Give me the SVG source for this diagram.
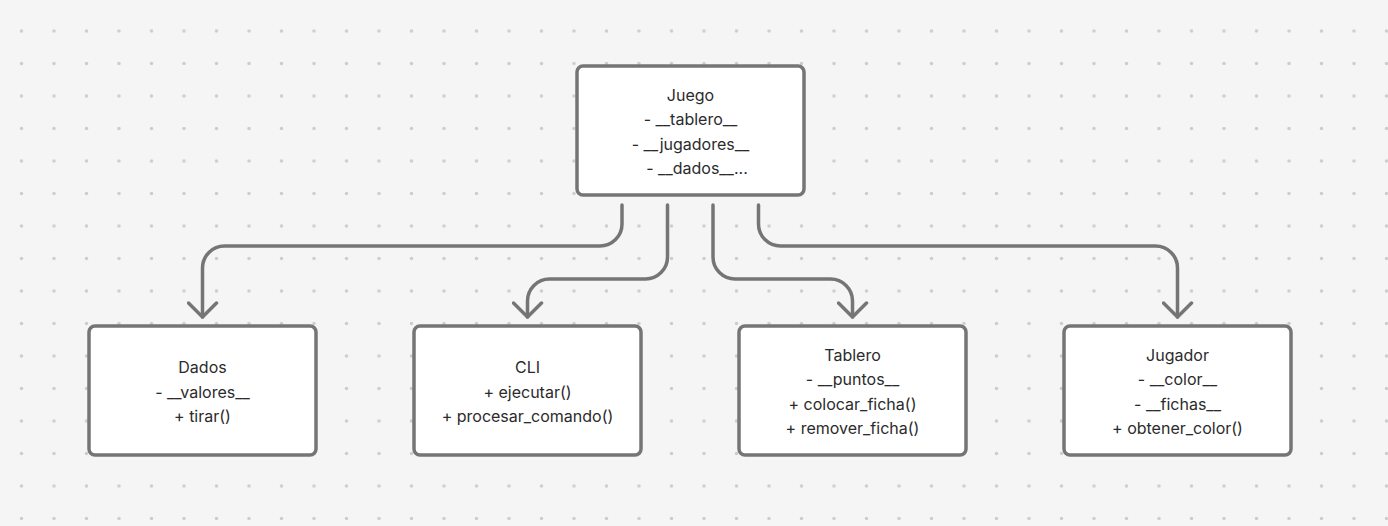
<svg xmlns="http://www.w3.org/2000/svg" width="1388" height="526" viewBox="0 0 1388 526">
<style>
.box{fill:#ffffff;stroke:#757575;stroke-width:3.5}
.lbl{font-family:Inter,"Noto Sans","Liberation Sans",sans-serif;font-size:16px;fill:#2b2b2b;text-anchor:middle;dominant-baseline:central}
.edge{fill:none;stroke:#757575;stroke-width:3.5;stroke-linecap:round;stroke-linejoin:round}
</style>
<defs>
<pattern id="dots" patternUnits="userSpaceOnUse" x="5.25" y="14.75" width="32.5" height="32.5">
<circle cx="16.25" cy="16.25" r="1.7" fill="#cccccc"/>
</pattern>
<marker id="arrow" markerUnits="userSpaceOnUse" viewBox="-16 -16 20 32" refX="0" refY="0" markerWidth="20" markerHeight="32" orient="auto">
<path d="M-14,-14 L0,0 L-14,14" fill="none" stroke="#757575" stroke-width="3.5" stroke-linecap="round" stroke-linejoin="round"/>
</marker>
</defs>
<rect x="0" y="0" width="1388" height="526" fill="#f5f5f5"/>
<rect x="0" y="0" width="1388" height="526" fill="url(#dots)"/>
<g id="connectors">
<path class="edge" marker-end="url(#arrow)" d="M622,205 V224 A22,22 0 0 1 600,246 H224.5 A22,22 0 0 0 202.5,268 V317"/>
<path class="edge" marker-end="url(#arrow)" d="M667.5,205 V257 A22,22 0 0 1 645.5,279 H549.5 A22,22 0 0 0 527.5,301 V317"/>
<path class="edge" marker-end="url(#arrow)" d="M713,205 V257 A22,22 0 0 0 735,279 H830.5 A22,22 0 0 1 852.5,301 V317"/>
<path class="edge" marker-end="url(#arrow)" d="M758.5,205 V224 A22,22 0 0 0 780.5,246 H1155.5 A22,22 0 0 1 1177.5,268 V317"/>
</g>
<g id="juego">
<rect class="box" x="577" y="66" width="227" height="129" rx="6"/>
<text class="lbl" x="690.5" y="94.5">Juego</text>
<text class="lbl" x="690.5" y="119">- __tablero__</text>
<text class="lbl" x="690.5" y="143.5">- __jugadores__</text>
<text class="lbl" x="697" y="168">- __dados__...</text>
</g>
<g id="dados">
<rect class="box" x="89" y="326" width="227" height="129" rx="6"/>
<text class="lbl" x="202.5" y="367">Dados</text>
<text class="lbl" x="202.5" y="391.5">- __valores__</text>
<text class="lbl" x="202.5" y="416">+ tirar()</text>
</g>
<g id="cli">
<rect class="box" x="414" y="326" width="227" height="129" rx="6"/>
<text class="lbl" x="527.5" y="367">CLI</text>
<text class="lbl" x="527.5" y="391.5">+ ejecutar()</text>
<text class="lbl" x="527.5" y="416">+ procesar_comando()</text>
</g>
<g id="tablero">
<rect class="box" x="739" y="326" width="227" height="129" rx="6"/>
<text class="lbl" x="852.5" y="354.5">Tablero</text>
<text class="lbl" x="852.5" y="379">- __puntos__</text>
<text class="lbl" x="852.5" y="403.5">+ colocar_ficha()</text>
<text class="lbl" x="852.5" y="428">+ remover_ficha()</text>
</g>
<g id="jugador">
<rect class="box" x="1064" y="326" width="227" height="129" rx="6"/>
<text class="lbl" x="1177.5" y="354.5">Jugador</text>
<text class="lbl" x="1177.5" y="379">- __color__</text>
<text class="lbl" x="1177.5" y="403.5">- __fichas__</text>
<text class="lbl" x="1177.5" y="428">+ obtener_color()</text>
</g>
</svg>
